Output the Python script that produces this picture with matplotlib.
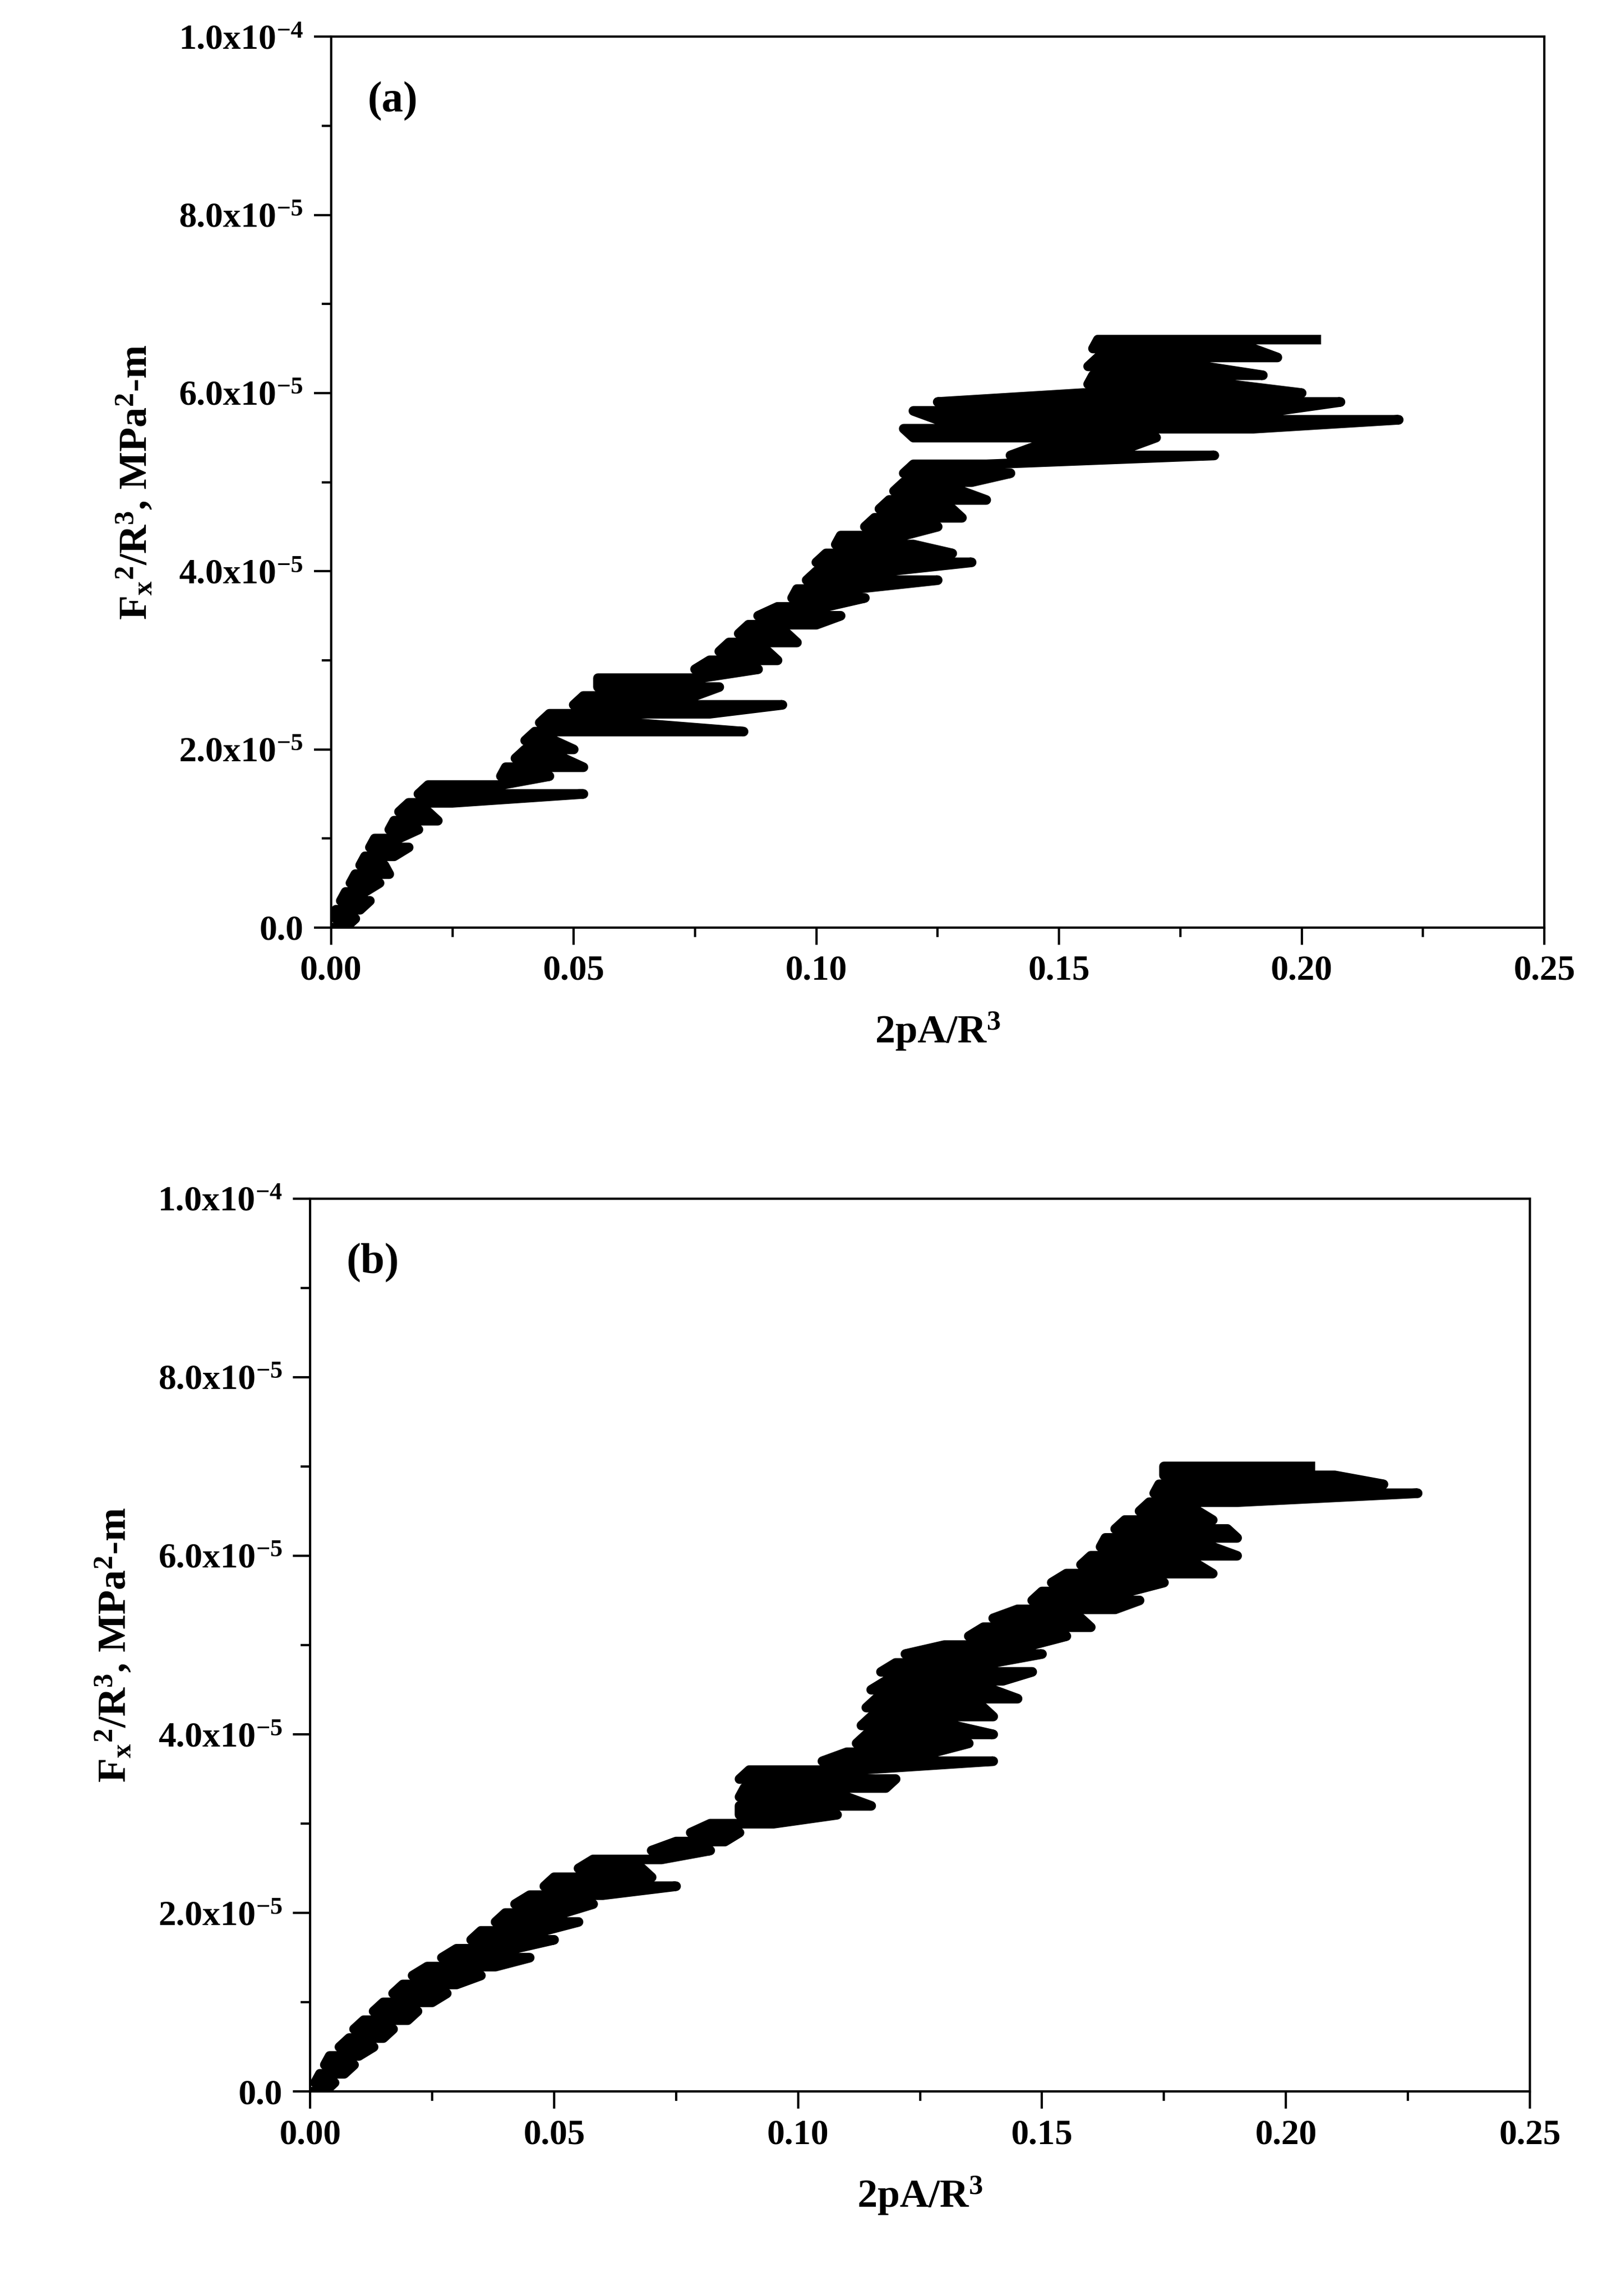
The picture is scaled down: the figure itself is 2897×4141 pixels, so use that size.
import matplotlib
matplotlib.use("Agg")
import matplotlib.pyplot as plt
from matplotlib.ticker import MultipleLocator

plt.rcParams['font.family'] = 'Liberation Serif'
plt.rcParams['font.weight'] = 'bold'
plt.rcParams['mathtext.fontset'] = 'custom'
plt.rcParams['mathtext.rm'] = 'Liberation Serif:bold'
plt.rcParams['mathtext.it'] = 'Liberation Serif:bold'
plt.rcParams['mathtext.bf'] = 'Liberation Serif:bold'
plt.rcParams['axes.unicode_minus'] = False

# Horizontal strokes: level y (units 1e-5), spanning left x to right x
ya_lvl = [0.0,0.1,0.2,0.3,0.4,0.5,0.6,0.7,0.8,0.9,1.0,1.1,1.2,1.3,1.4,1.5,1.6,1.7,1.8,1.9,
          2.0,2.1,2.2,2.3,2.4,2.5,2.6,2.7,2.8,2.9,3.0,3.1,3.2,3.3,3.4,3.5,3.6,3.7,3.8,3.9,
          4.0,4.1,4.2,4.3,4.4,4.5,4.6,4.7,4.8,4.9,5.0,5.1,5.2,5.3,5.4,5.5,5.6,5.7,5.8,5.9,
          6.0,6.1,6.2,6.3,6.4,6.5,6.6]
xa_left = [0.000,0.001,0.001,0.002,0.003,0.004,0.005,0.006,0.007,0.008,0.009,0.012,0.013,0.014,0.016,0.018,0.020,0.035,0.036,0.038,
           0.040,0.040,0.042,0.043,0.045,0.050,0.052,0.055,0.055,0.075,0.078,0.080,0.082,0.084,0.086,0.088,0.092,0.095,0.096,0.098,
           0.100,0.100,0.102,0.104,0.105,0.110,0.112,0.113,0.115,0.116,0.118,0.118,0.120,0.140,0.145,0.120,0.118,0.125,0.120,0.125,
           0.155,0.156,0.157,0.156,0.158,0.157,0.158]
xa_right = [0.003,0.005,0.006,0.008,0.007,0.010,0.012,0.011,0.013,0.016,0.014,0.018,0.022,0.020,0.025,0.052,0.035,0.045,0.052,0.048,
            0.050,0.046,0.085,0.062,0.078,0.093,0.075,0.080,0.076,0.088,0.092,0.090,0.096,0.094,0.100,0.105,0.102,0.110,0.108,0.125,
            0.115,0.132,0.128,0.120,0.118,0.125,0.130,0.128,0.135,0.130,0.132,0.140,0.135,0.182,0.165,0.170,0.190,0.220,0.195,0.208,
            0.200,0.185,0.192,0.180,0.195,0.190,0.203]

yb_lvl = [0.0,0.1,0.2,0.3,0.4,0.5,0.6,0.7,0.8,0.9,1.0,1.1,1.2,1.3,1.4,1.5,1.6,1.7,1.8,1.9,
          2.0,2.1,2.2,2.3,2.4,2.5,2.6,2.7,2.8,2.9,3.0,3.1,3.2,3.3,3.4,3.5,3.6,3.7,3.8,3.9,
          4.0,4.1,4.2,4.3,4.4,4.5,4.6,4.7,4.8,4.9,5.0,5.1,5.2,5.3,5.4,5.5,5.6,5.7,5.8,5.9,
          6.0,6.1,6.2,6.3,6.4,6.5,6.6,6.7,6.8,6.9,7.0]
xb_left = [0.000,0.001,0.002,0.003,0.004,0.006,0.008,0.009,0.011,0.013,0.015,0.017,0.019,0.021,0.024,0.027,0.030,0.033,0.035,0.038,
           0.040,0.042,0.045,0.048,0.050,0.055,0.058,0.070,0.075,0.078,0.082,0.088,0.088,0.088,0.089,0.088,0.090,0.105,0.110,0.112,
           0.114,0.113,0.115,0.114,0.116,0.115,0.118,0.117,0.120,0.122,0.130,0.135,0.138,0.140,0.145,0.148,0.150,0.152,0.155,0.158,
           0.160,0.162,0.163,0.165,0.167,0.170,0.172,0.173,0.174,0.175,0.175]
xb_right = [0.003,0.005,0.007,0.009,0.010,0.013,0.015,0.017,0.020,0.022,0.025,0.028,0.030,0.035,0.038,0.045,0.042,0.050,0.048,0.055,
            0.052,0.058,0.060,0.075,0.070,0.068,0.072,0.082,0.085,0.088,0.095,0.108,0.115,0.110,0.118,0.120,0.112,0.140,0.128,0.135,
            0.140,0.132,0.140,0.138,0.145,0.140,0.142,0.148,0.140,0.150,0.148,0.155,0.160,0.158,0.165,0.170,0.168,0.175,0.185,0.182,
            0.190,0.185,0.190,0.188,0.185,0.182,0.190,0.227,0.220,0.210,0.205]

yticks = [0, 2e-5, 4e-5, 6e-5, 8e-5, 1e-4]
ylabels = ['0.0', r'2.0x10$^{-5}$', r'4.0x10$^{-5}$', r'6.0x10$^{-5}$', r'8.0x10$^{-5}$', r'1.0x10$^{-4}$']
xticks = [0, 0.05, 0.10, 0.15, 0.20, 0.25]
xlabels = ['0.00', '0.05', '0.10', '0.15', '0.20', '0.25']

def path(lvl, left, right):
    px, py = [], []
    for i, (y, l, r) in enumerate(zip(lvl, left, right)):
        px += [l, r] if i % 2 == 0 else [r, l]
        py += [y * 1e-5, y * 1e-5]
    return px, py

fig = plt.figure(figsize=(28.97, 41.41), dpi=100)
pos = [[0.206, 0.596, 0.755, 0.388], [0.193, 0.089, 0.759, 0.389]]
data = [(ya_lvl, xa_left, xa_right, '(a)'), (yb_lvl, xb_left, xb_right, '(b)')]
for p, (lvl, l, r, tag) in zip(pos, data):
    ax = fig.add_axes(p)
    px, py = path(lvl, l, r)
    ax.plot(px, py, color='black', lw=12.5)
    ax.set_xlim(0, 0.25)
    ax.set_ylim(0, 1e-4)
    ax.set_xticks(xticks)
    ax.set_xticklabels(xlabels)
    ax.set_yticks(yticks)
    ax.set_yticklabels(ylabels)
    ax.xaxis.set_minor_locator(MultipleLocator(0.025))
    ax.yaxis.set_minor_locator(MultipleLocator(1e-5))
    ax.tick_params(which='major', direction='out', length=22, width=3, labelsize=46, pad=14)
    ax.tick_params(which='minor', direction='out', length=12, width=3)
    for s in ax.spines.values():
        s.set_linewidth(3)
    ax.set_xlabel(r'2pA/R$^3$', fontsize=52, fontweight='bold', labelpad=30)
    ax.set_ylabel(r'F$_x$$^2$/R$^3$, MPa$^2$-m', fontsize=52, fontweight='bold', labelpad=30)
    ax.text(0.03, 0.95, tag, transform=ax.transAxes, fontsize=56, fontweight='bold', va='top')

fig.savefig('out.png', dpi=100)
